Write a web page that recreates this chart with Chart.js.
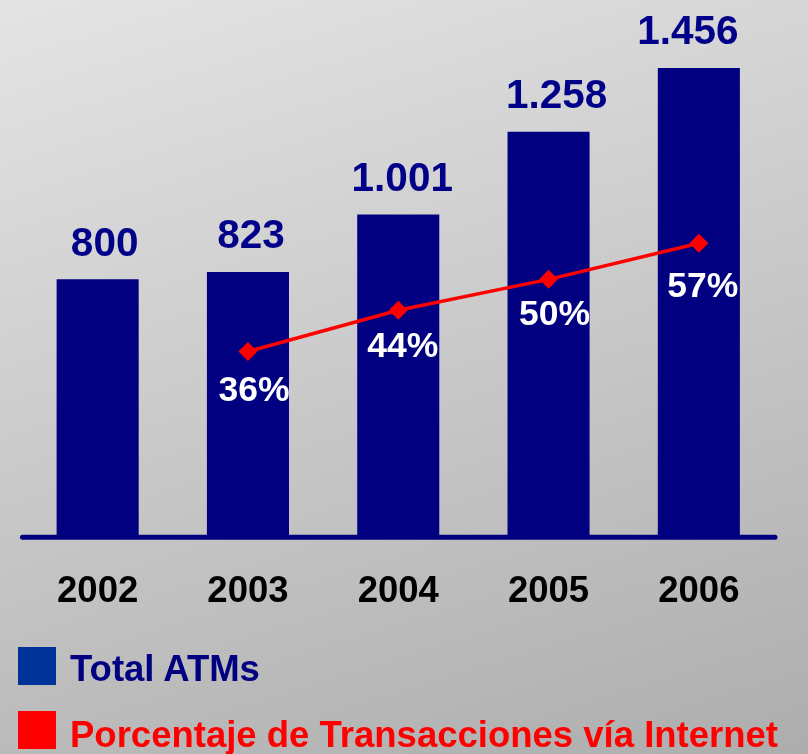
<!DOCTYPE html>
<html>
<head>
<meta charset="utf-8">
<script src="https://cdn.jsdelivr.net/npm/chart.js@4.4.0/dist/chart.umd.min.js"></script>
<style>
  html, body {
    margin: 0;
    padding: 0;
    width: 808px;
    height: 754px;
    overflow: hidden;
    background: linear-gradient(163deg, #e4e4e4 0%, #adadad 100%);
    font-family: "Liberation Sans", Arial, sans-serif;
  }
  #wrap { position: relative; width: 808px; height: 754px; }
  canvas { position: absolute; left: 0; top: 0; }
  .sq { position: absolute; left: 18px; width: 38px; height: 38px; }
  .txt {
    position: absolute;
    left: 70px;
    font-size: 36.5px;
    font-weight: bold;
    line-height: 36px;
    white-space: nowrap;
  }
</style>
</head>
<body>
<div id="wrap">
  <canvas id="grafico" width="808" height="754"></canvas>
  <div class="sq" style="top:647px;background:#003399"></div>
  <div class="txt" style="top:651px;color:#000080">Total ATMs</div>
  <div class="sq" style="top:711px;background:#ff0000"></div>
  <div class="txt" style="top:717px;color:#ff0000">Porcentaje de Transacciones vía Internet</div>
</div>
<script>
// datos del grafico
const anios = ["2002", "2003", "2004", "2005", "2006"];
const totalAtms = [800, 823, 1001, 1258, 1456];
const porcentajeInternet = [null, 36, 44, 50, 57];

// pequenos ajustes de las etiquetas (como en la lamina original)
const ajusteAtmX = [7, 3, 4, 8, -11];
const ajustePctX = [0, 6, 4.5, 6, 4];
const ajustePctY = [0, 37, 34, 33.5, 41];

const fuente = '"Liberation Sans", Arial, sans-serif';

function formatoMiles(n) {
  return n.toString().replace(/\B(?=(\d{3})+(?!\d))/g, ".");
}

// linea base azul debajo de las barras
const lineaBase = {
  id: "lineaBase",
  beforeDatasetsDraw(chart) {
    const { ctx, chartArea } = chart;
    ctx.save();
    ctx.strokeStyle = "#000080";
    ctx.lineWidth = 5;
    ctx.lineCap = "round";
    ctx.beginPath();
    ctx.moveTo(chartArea.left, chartArea.bottom);
    ctx.lineTo(chartArea.right + 1, chartArea.bottom);
    ctx.stroke();
    ctx.restore();
  },
};

// etiquetas de valores
const etiquetas = {
  id: "etiquetas",
  afterDatasetsDraw(chart) {
    const ctx = chart.ctx;
    ctx.save();
    ctx.textAlign = "center";
    ctx.textBaseline = "alphabetic";

    ctx.font = "bold 40.5px " + fuente;
    ctx.fillStyle = "#000088";
    chart.getDatasetMeta(1).data.forEach((barra, i) => {
      ctx.fillText(formatoMiles(totalAtms[i]), barra.x + ajusteAtmX[i], barra.y - 23.5);
    });

    ctx.font = "bold 35.5px " + fuente;
    ctx.fillStyle = "#ffffff";
    chart.getDatasetMeta(0).data.forEach((punto, i) => {
      if (porcentajeInternet[i] === null) return;
      ctx.fillText(
        porcentajeInternet[i] + "%",
        punto.x + ajustePctX[i],
        punto.y + ajustePctY[i] + 12.5
      );
    });
    ctx.restore();
  },
};

new Chart(document.getElementById("grafico"), {
  data: {
    labels: anios,
    datasets: [
      {
        type: "line",
        label: "Porcentaje de Transacciones vía Internet",
        data: porcentajeInternet,
        yAxisID: "y2",
        borderColor: "#ff0000",
        borderWidth: 3.5,
        pointStyle: "rectRot",
        pointRadius: 9.5,
        pointBackgroundColor: "#ff0000",
        pointBorderWidth: 0,
        order: 0,
      },
      {
        type: "bar",
        label: "Total ATMs",
        data: totalAtms,
        yAxisID: "y",
        backgroundColor: "#000080",
        barPercentage: 0.546,
        categoryPercentage: 1,
        order: 1,
      },
    ],
  },
  options: {
    responsive: false,
    animation: false,
    layout: {
      padding: { left: 22.5, right: 34, top: 21.5, bottom: 115 },
    },
    plugins: {
      legend: { display: false },
      tooltip: { enabled: false },
    },
    scales: {
      x: {
        grid: { display: false },
        border: { display: false },
        ticks: {
          color: "#000000",
          padding: 25,
          font: { family: fuente, size: 36.5, weight: "bold" },
        },
      },
      y: { display: false, min: 0, max: 1600 },
      y2: { display: false, min: 0, max: 100, position: "right" },
    },
  },
  plugins: [lineaBase, etiquetas],
});
</script>
</body>
</html>
